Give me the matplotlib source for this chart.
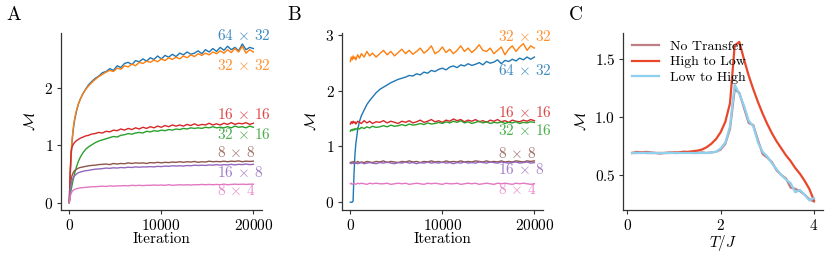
#!/usr/bin/env python3
"""Mutual information M vs training iteration (A, B) and vs temperature (C)."""
import matplotlib
matplotlib.use("Agg")
import matplotlib.pyplot as plt

plt.rcParams["font.family"] = "serif"
plt.rcParams["font.serif"] = ["cmr10"]
plt.rcParams["mathtext.fontset"] = "cm"
plt.rcParams["axes.formatter.use_mathtext"] = True
plt.rcParams["font.size"] = 11

ITER = [0, 100, 200, 300, 400, 500, 600, 800, 1000, 1200,
        1500, 1800, 2100, 2400, 2800, 3200, 3600, 4000, 4400, 4800,
        5200, 5600, 6000, 6400, 6800, 7200, 7600, 8000, 8400, 8800,
        9200, 9600, 10000, 10400, 10800, 11200, 11600, 12000, 12400, 12800,
        13200, 13600, 14000, 14400, 14800, 15200, 15600, 16000, 16400, 16800,
        17200, 17600, 18000, 18400, 18800, 19200, 19600, 20000]

SIZE_TEX = [r"64 $\times$ 32", r"32 $\times$ 32", r"16 $\times$ 16", r"32 $\times$ 16",
            r"8 $\times$ 8", r"16 $\times$ 8", r"8 $\times$ 4"]
COLORS = ["#1f77b4", "#ff7f0e", "#d62728", "#2ca02c", "#8c564b", "#9467bd", "#e377c2"]

# panel A: training from scratch
A_64x32 = [0, 0.45, 0.8, 1.05, 1.22, 1.35, 1.45, 1.6, 1.72, 1.8,
           1.9, 1.98, 2.05, 2.1, 2.16, 2.2, 2.26, 2.28, 2.33, 2.3,
           2.38, 2.35, 2.42, 2.44, 2.4, 2.47, 2.45, 2.5, 2.46, 2.52,
           2.49, 2.55, 2.5, 2.56, 2.53, 2.58, 2.54, 2.6, 2.57, 2.62,
           2.58, 2.6, 2.64, 2.59, 2.66, 2.62, 2.68, 2.63, 2.7, 2.65,
           2.72, 2.66, 2.7, 2.64, 2.76, 2.66, 2.7, 2.68]
A_32x32 = [0, 0.5, 0.85, 1.1, 1.25, 1.38, 1.48, 1.62, 1.72, 1.8,
           1.9, 1.97, 2.03, 2.08, 2.14, 2.19, 2.23, 2.27, 2.3, 2.28,
           2.34, 2.32, 2.38, 2.36, 2.41, 2.38, 2.44, 2.42, 2.46, 2.44,
           2.48, 2.45, 2.5, 2.47, 2.52, 2.49, 2.53, 2.5, 2.55, 2.52,
           2.57, 2.54, 2.59, 2.56, 2.6, 2.57, 2.62, 2.59, 2.64, 2.6,
           2.66, 2.61, 2.68, 2.62, 2.72, 2.6, 2.66, 2.62]
A_16x16 = [0, 0.55, 0.88, 0.97, 1.0, 1.03, 1.05, 1.08, 1.1, 1.12,
           1.14, 1.16, 1.17, 1.19, 1.2, 1.22, 1.21, 1.24, 1.23, 1.26,
           1.25, 1.28, 1.26, 1.29, 1.27, 1.3, 1.28, 1.31, 1.29, 1.32,
           1.3, 1.33, 1.31, 1.34, 1.32, 1.35, 1.33, 1.35, 1.33, 1.36,
           1.34, 1.37, 1.34, 1.36, 1.35, 1.38, 1.35, 1.37, 1.35, 1.38,
           1.36, 1.39, 1.36, 1.38, 1.37, 1.39, 1.36, 1.38]
A_32x16 = [0, 0.12, 0.22, 0.3, 0.38, 0.45, 0.52, 0.63, 0.72, 0.79,
           0.87, 0.93, 0.97, 1.0, 1.04, 1.07, 1.09, 1.11, 1.13, 1.15,
           1.14, 1.17, 1.18, 1.2, 1.19, 1.21, 1.22, 1.21, 1.24, 1.23,
           1.25, 1.24, 1.26, 1.25, 1.27, 1.26, 1.28, 1.27, 1.29, 1.28,
           1.3, 1.29, 1.3, 1.29, 1.31, 1.3, 1.32, 1.3, 1.31, 1.3,
           1.32, 1.3, 1.33, 1.31, 1.32, 1.3, 1.33, 1.31]
A_8x8 = [0, 0.25, 0.4, 0.47, 0.51, 0.54, 0.56, 0.58, 0.6, 0.61,
         0.62, 0.63, 0.64, 0.645, 0.65, 0.66, 0.665, 0.67, 0.66, 0.68,
         0.67, 0.68, 0.675, 0.69, 0.68, 0.69, 0.685, 0.69, 0.68, 0.695,
         0.69, 0.7, 0.69, 0.7, 0.695, 0.705, 0.7, 0.71, 0.7, 0.71,
         0.705, 0.715, 0.7, 0.71, 0.705, 0.72, 0.71, 0.715, 0.71, 0.72,
         0.71, 0.72, 0.715, 0.725, 0.71, 0.72, 0.715, 0.72]
A_16x8 = [0, 0.2, 0.32, 0.38, 0.42, 0.45, 0.47, 0.5, 0.52, 0.53,
          0.545, 0.555, 0.56, 0.57, 0.58, 0.585, 0.59, 0.6, 0.595, 0.605,
          0.6, 0.61, 0.605, 0.615, 0.61, 0.62, 0.615, 0.62, 0.62, 0.625,
          0.62, 0.63, 0.625, 0.635, 0.63, 0.64, 0.635, 0.64, 0.635, 0.645,
          0.64, 0.65, 0.645, 0.65, 0.645, 0.655, 0.65, 0.66, 0.65, 0.66,
          0.655, 0.665, 0.655, 0.665, 0.66, 0.67, 0.66, 0.665]
A_8x4 = [0, 0.1, 0.16, 0.19, 0.21, 0.22, 0.23, 0.24, 0.25, 0.255,
         0.26, 0.265, 0.27, 0.275, 0.275, 0.28, 0.285, 0.28, 0.29, 0.285,
         0.29, 0.29, 0.295, 0.29, 0.3, 0.295, 0.3, 0.295, 0.3, 0.3,
         0.305, 0.3, 0.305, 0.3, 0.31, 0.3, 0.305, 0.31, 0.305, 0.31,
         0.305, 0.31, 0.31, 0.315, 0.31, 0.315, 0.31, 0.315, 0.31, 0.32,
         0.31, 0.315, 0.32, 0.315, 0.32, 0.315, 0.32, 0.32]

# panel B: transfer learning
B_64x32 = [0, 0, 0, 0.02, 0.5, 0.85, 1.05, 1.3, 1.45, 1.55,
           1.65, 1.75, 1.82, 1.88, 1.96, 2.02, 2.06, 2.1, 2.14, 2.17,
           2.2, 2.22, 2.24, 2.27, 2.26, 2.3, 2.28, 2.33, 2.31, 2.36,
           2.34, 2.38, 2.4, 2.37, 2.42, 2.44, 2.41, 2.46, 2.44, 2.48,
           2.45, 2.47, 2.5, 2.46, 2.52, 2.49, 2.51, 2.55, 2.48, 2.54,
           2.52, 2.56, 2.53, 2.58, 2.55, 2.6, 2.56, 2.6]
B_32x32 = [2.52, 2.6, 2.55, 2.62, 2.57, 2.6, 2.55, 2.64, 2.58, 2.66,
           2.6, 2.7, 2.62, 2.67, 2.6, 2.66, 2.72, 2.64, 2.7, 2.62,
           2.68, 2.74, 2.66, 2.72, 2.65, 2.7, 2.76, 2.67, 2.72, 2.8,
           2.66, 2.7, 2.78, 2.68, 2.74, 2.66, 2.72, 2.8, 2.7, 2.76,
           2.68, 2.74, 2.82, 2.72, 2.7, 2.76, 2.66, 2.72, 2.78, 2.64,
           2.74, 2.8, 2.7, 2.78, 2.84, 2.72, 2.8, 2.76]
B_16x16 = [1.4, 1.44, 1.41, 1.45, 1.42, 1.44, 1.4, 1.45, 1.43, 1.41,
           1.46, 1.42, 1.45, 1.41, 1.44, 1.43, 1.46, 1.42, 1.45, 1.43,
           1.41, 1.45, 1.43, 1.46, 1.42, 1.44, 1.47, 1.43, 1.45, 1.48,
           1.44, 1.46, 1.43, 1.47, 1.45, 1.49, 1.46, 1.48, 1.44, 1.47,
           1.45, 1.48, 1.44, 1.46, 1.43, 1.47, 1.45, 1.48, 1.44, 1.46,
           1.43, 1.47, 1.45, 1.44, 1.47, 1.45, 1.48, 1.46]
B_32x16 = [1.27, 1.3, 1.28, 1.31, 1.29, 1.32, 1.3, 1.33, 1.31, 1.34,
           1.32, 1.35, 1.33, 1.36, 1.34, 1.35, 1.37, 1.35, 1.38, 1.36,
           1.37, 1.39, 1.37, 1.4, 1.38, 1.39, 1.41, 1.39, 1.42, 1.4,
           1.41, 1.43, 1.41, 1.44, 1.42, 1.45, 1.43, 1.46, 1.42, 1.44,
           1.41, 1.43, 1.45, 1.42, 1.44, 1.41, 1.43, 1.42, 1.44, 1.41,
           1.43, 1.42, 1.44, 1.41, 1.43, 1.42, 1.44, 1.43]
B_8x8 = [0.71, 0.72, 0.7, 0.73, 0.71, 0.72, 0.7, 0.73, 0.71, 0.72,
         0.71, 0.73, 0.72, 0.71, 0.73, 0.72, 0.74, 0.71, 0.73, 0.72,
         0.71, 0.73, 0.72, 0.74, 0.72, 0.73, 0.71, 0.73, 0.72, 0.74,
         0.72, 0.73, 0.71, 0.74, 0.72, 0.73, 0.72, 0.74, 0.72, 0.73,
         0.72, 0.74, 0.73, 0.72, 0.74, 0.72, 0.73, 0.72, 0.74, 0.72,
         0.73, 0.72, 0.74, 0.73, 0.72, 0.74, 0.73, 0.74]
B_16x8 = [0.7, 0.69, 0.71, 0.7, 0.69, 0.71, 0.7, 0.69, 0.7, 0.71,
          0.69, 0.7, 0.71, 0.7, 0.69, 0.71, 0.7, 0.72, 0.7, 0.69,
          0.71, 0.7, 0.72, 0.7, 0.71, 0.69, 0.71, 0.7, 0.72, 0.7,
          0.71, 0.7, 0.72, 0.7, 0.71, 0.69, 0.71, 0.7, 0.72, 0.7,
          0.71, 0.7, 0.72, 0.71, 0.7, 0.72, 0.71, 0.7, 0.72, 0.71,
          0.7, 0.71, 0.72, 0.7, 0.71, 0.72, 0.7, 0.71]
B_8x4 = [0.33, 0.34, 0.32, 0.33, 0.34, 0.33, 0.32, 0.34, 0.33, 0.34,
         0.33, 0.32, 0.34, 0.33, 0.34, 0.33, 0.33, 0.34, 0.32, 0.33,
         0.34, 0.33, 0.34, 0.32, 0.33, 0.34, 0.33, 0.32, 0.34, 0.33,
         0.34, 0.33, 0.32, 0.34, 0.33, 0.33, 0.34, 0.32, 0.33, 0.34,
         0.33, 0.34, 0.32, 0.33, 0.34, 0.33, 0.32, 0.34, 0.33, 0.34,
         0.33, 0.32, 0.34, 0.33, 0.34, 0.33, 0.32, 0.33]

# panel C: M vs temperature
TEMP = [0.1, 0.2, 0.3, 0.4, 0.5, 0.6, 0.7, 0.8, 0.9, 1.0,
        1.1, 1.2, 1.3, 1.4, 1.5, 1.6, 1.7, 1.8, 1.9, 2.0,
        2.1, 2.2, 2.3, 2.4, 2.5, 2.6, 2.7, 2.8, 2.9, 3.0,
        3.1, 3.2, 3.3, 3.4, 3.5, 3.6, 3.7, 3.8, 3.9, 4.0]
NO_TRANSFER = [0.69, 0.7, 0.69, 0.7, 0.695, 0.69, 0.685, 0.69, 0.695, 0.69,
               0.69, 0.7, 0.695, 0.69, 0.69, 0.695, 0.69, 0.695, 0.7, 0.72,
               0.77, 0.9, 1.24, 1.21, 1.08, 0.95, 0.93, 0.8, 0.68, 0.65,
               0.61, 0.54, 0.5, 0.47, 0.39, 0.38, 0.36, 0.33, 0.29, 0.27]
HIGH_TO_LOW = [0.69, 0.69, 0.695, 0.69, 0.69, 0.69, 0.69, 0.69, 0.69, 0.695,
               0.695, 0.7, 0.7, 0.705, 0.71, 0.72, 0.74, 0.77, 0.81, 0.87,
               0.96, 1.12, 1.62, 1.65, 1.5, 1.36, 1.24, 1.13, 1.03, 0.94,
               0.86, 0.79, 0.73, 0.67, 0.62, 0.56, 0.51, 0.45, 0.38, 0.28]
LOW_TO_HIGH = [0.69, 0.69, 0.69, 0.69, 0.69, 0.69, 0.69, 0.69, 0.69, 0.69,
               0.69, 0.69, 0.69, 0.69, 0.69, 0.69, 0.69, 0.695, 0.7, 0.73,
               0.78, 0.92, 1.28, 1.2, 1.1, 0.97, 0.92, 0.78, 0.7, 0.66,
               0.6, 0.55, 0.5, 0.46, 0.43, 0.35, 0.37, 0.33, 0.28, 0.3]
C_LABELS = ["No Transfer", "High to Low", "Low to High"]
C_COLORS = ["#bd7e86", "#e8472b", "#8fd0ee"]

# label heights next to the curves (data units)
LABEL_Y_A = [2.9, 2.38, 1.54, 1.19, 0.87, 0.53, 0.21]
LABEL_Y_B = [2.35, 2.97, 1.61, 1.28, 0.88, 0.58, 0.22]


def style(ax):
    for side in ("top", "right"):
        ax.spines[side].set_visible(False)
    for side in ("left", "bottom"):
        ax.spines[side].set_color("#333333")
        ax.spines[side].set_linewidth(0.9)
    ax.tick_params(length=3, width=0.8, color="#333333", labelsize=11, pad=2.5)


def training_panel(ax, curves, label_y, ylim, yticks):
    for y, lab, col, ly in zip(curves, SIZE_TEX, COLORS, label_y):
        ax.plot(ITER, y, color=col, linewidth=1.0)
        ax.text(16000, ly, lab, color=col, alpha=0.85, fontsize=11,
                va="center", ha="left")
    ax.set_xlim(-900, 20950)
    ax.set_ylim(*ylim)
    ax.set_xticks([0, 10000, 20000])
    ax.set_yticks(yticks)
    ax.set_xlabel("Iteration", labelpad=0)
    ax.set_ylabel(r"$\mathcal{M}$", labelpad=5)
    style(ax)


def main():
    fig = plt.figure(figsize=(8.31, 2.58), dpi=100)
    ax_a = fig.add_axes([0.0734, 0.186, 0.242, 0.686])
    ax_b = fig.add_axes([0.4116, 0.186, 0.242, 0.686])
    ax_c = fig.add_axes([0.7497, 0.186, 0.2407, 0.686])

    training_panel(ax_a, [A_64x32, A_32x32, A_16x16, A_32x16, A_8x8, A_16x8, A_8x4],
                   LABEL_Y_A, (-0.13, 2.95), [0, 1, 2])
    training_panel(ax_b, [B_64x32, B_32x32, B_16x16, B_32x16, B_8x8, B_16x8, B_8x4],
                   LABEL_Y_B, (-0.14, 3.03), [0, 1, 2, 3])

    for y, lab, col in zip([NO_TRANSFER, HIGH_TO_LOW, LOW_TO_HIGH], C_LABELS, C_COLORS):
        ax_c.plot(TEMP, y, color=col, linewidth=1.6, label=lab)
    ax_c.set_xlim(-0.095, 4.195)
    ax_c.set_ylim(0.197, 1.727)
    ax_c.set_xticks([0, 2, 4])
    ax_c.set_yticks([0.5, 1.0, 1.5])
    ax_c.set_xlabel(r"$T/J$", labelpad=0)
    ax_c.set_ylabel(r"$\mathcal{M}$", labelpad=4)
    ax_c.legend(loc="upper left", frameon=False, fontsize=10,
                bbox_to_anchor=(-0.02, 1.03), handlelength=2.0, labelspacing=0.2)
    style(ax_c)

    for x, letter in [(0.008, "A"), (0.346, "B"), (0.684, "C")]:
        fig.text(x, 0.94, letter, fontsize=14, va="center", ha="left")

    fig.savefig("out.png", dpi=100)


if __name__ == "__main__":
    main()
